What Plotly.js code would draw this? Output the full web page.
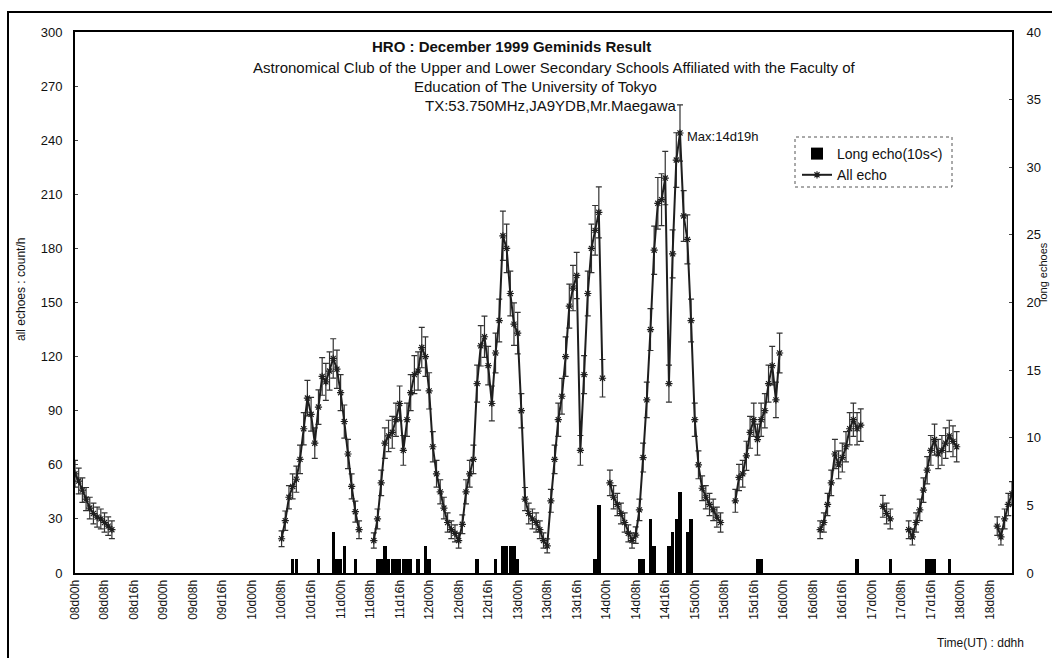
<!DOCTYPE html>
<html><head><meta charset="utf-8">
<script src="https://cdn.plot.ly/plotly-3.0.1.min.js"></script>
<style>html,body{margin:0;padding:0;background:#fff;} #chart{width:1052px;height:658px;}</style>
</head><body><div id="chart"></div>
<script>
// x-axis tick labels, one every 8 hours starting at 08d00h
const tickLabels = ["08d00h","08d08h","08d16h","09d00h","09d08h","09d16h","10d00h","10d08h","10d16h",
  "11d00h","11d08h","11d16h","12d00h","12d08h","12d16h","13d00h","13d08h","13d16h","14d00h","14d08h",
  "14d16h","15d00h","15d08h","15d16h","16d00h","16d08h","16d16h","17d00h","17d08h","17d16h","18d00h","18d08h"];

// All echo (count/h): observed segments, start hour counted from 08d00h
const segStarts = [0, 56, 81, 145, 179, 202, 219, 226, 250];
const seg08d = [55, 51, 46, 41, 36, 33, 31, 30, 28, 26, 24];
const seg10d = [19, 29, 42, 48, 52, 63, 80, 97, 88, 72, 92, 109, 106, 112, 119, 113, 100, 84, 66, 48, 34, 24];
const seg11d = [18, 30, 50, 72, 76, 78, 85, 94, 68, 85,
  100, 110, 112, 125, 120, 101, 70, 55, 45, 36,
  28, 24, 22, 18, 27, 45, 55, 63, 105, 126,
  131, 115, 94, 122, 140, 187, 180, 155, 138, 133,
  90, 41, 33, 30, 28, 24, 18, 15, 40, 63,
  85, 98, 120, 148, 158, 165, 68, 110, 155, 180,
  190, 200, 108];
const seg14d = [50, 42, 38, 33, 28, 22, 18, 21, 35, 64,
  96, 135, 179, 205, 207, 219, 105, 177, 229, 244,
  198, 185, 140, 85, 60, 47, 42, 38, 35, 31, 28];
const seg15d = [40, 53, 55, 65, 78, 85, 74, 85, 90, 105, 115, 96, 122];
const seg16d = [24, 28, 38, 50, 66, 60, 64, 70, 80, 85, 80, 82];
const seg17a = [37, 33, 30];
const seg17b = [24, 20, 28, 35, 46, 57, 68, 74, 66, 68, 72, 76, 73, 70];
const seg18d = [26, 20, 30, 38, 44];
const segValues = [seg08d, seg10d, seg11d, seg14d, seg15d, seg16d, seg17a, seg17b, seg18d];

// Long echo (10s<), count/h on the right axis
const longHours = [59,60,66,70,71,72,73,76,82,83,84,85,86,87,88,89,90,91,93,95,96,109,114,
  116,117,118,119,120,141,142,153,154,156,157,161,162,163,164,166,167,185,186,212,221,231,232,233,237];
const longEcho = [1,1,1,3,1,1,2,1,1,1,2,1,1,1,1,1,1,1,1,2,1,1,1,
  2,2,2,2,1,1,5,1,1,4,2,2,3,4,6,3,4,1,1,1,1,1,1,1,1];

// build line arrays with gaps between segments
const allX = [], allY = [];
segValues.forEach((vals, k) => {
  vals.forEach((v, i) => { allX.push(segStarts[k] + i); allY.push(v); });
  allX.push(segStarts[k] + vals.length); allY.push(null);
});
const tickVals = tickLabels.map((_, i) => i * 8);

// pixel helpers for paper-positioned decorations
const L = 75, R = 1012, T = 32, B = 573;
const px = x => (x - L) / (R - L);
const py = y => (B - y) / (B - T);
const FONT = "Liberation Sans, Arial, sans-serif";
const INK = "#111";

const traces = [
  { type: "bar", x: longHours, y: longEcho, yaxis: "y2", name: "Long echo(10s<)",
    marker: { color: "#000", line: { width: 0 } }, width: 0.92 },
  { type: "scatter", mode: "lines+markers", x: allX, y: allY, name: "All echo",
    connectgaps: false,
    line: { color: "#1e1e1e", width: 2 },
    marker: { symbol: "asterisk-open", size: 6, color: "#1e1e1e", line: { width: 1.2, color: "#1e1e1e" } },
    error_y: { type: "sqrt", color: "#333", thickness: 1.2, width: 3 } }
];

const layout = {
  width: 1052, height: 658,
  margin: { l: L, r: 1052 - R, t: T, b: 658 - B },
  paper_bgcolor: "#fff", plot_bgcolor: "#fff",
  font: { family: FONT, color: INK, size: 12 },
  showlegend: true,
  bargap: 0,
  xaxis: { range: [0, 254], tickvals: tickVals, ticktext: tickLabels, tickangle: -90,
    tickfont: { size: 12, family: FONT, color: INK }, showgrid: false, zeroline: false,
    showline: true, linecolor: "#000", linewidth: 2, mirror: true, ticks: "" },
  yaxis: { range: [0, 300], dtick: 30, tick0: 0, showgrid: false, zeroline: false,
    showline: true, linecolor: "#000", linewidth: 2, ticks: "inside", ticklen: 3, tickcolor: "#444",
    tickfont: { size: 13, family: FONT, color: INK }, ticklabelstandoff: 8 },
  yaxis2: { range: [0, 40], dtick: 5, tick0: 0, overlaying: "y", side: "right", showgrid: false,
    zeroline: false, showline: true, linecolor: "#000", linewidth: 2, ticks: "inside", ticklen: 3,
    tickcolor: "#444", tickfont: { size: 13, family: FONT, color: INK }, ticklabelstandoff: 10 },
  legend: { x: px(797), y: py(138), xanchor: "left", yanchor: "top", bgcolor: "rgba(255,255,255,0)",
    borderwidth: 0, font: { size: 14, family: FONT, color: INK }, tracegroupgap: 0, itemwidth: 30 },
  shapes: [
    { type: "rect", xref: "paper", yref: "paper", x0: px(8), x1: px(1070), y0: py(670), y1: py(12),
      line: { color: "#000", width: 2 } },
    { type: "rect", xref: "paper", yref: "paper", x0: px(795), x1: px(952), y0: py(187), y1: py(137),
      line: { color: "#555", width: 1, dash: "dot" } }
  ],
  annotations: [
    { xref: "paper", yref: "paper", x: px(511), y: py(46), text: "<b>HRO : December 1999 Geminids Result</b>",
      showarrow: false, font: { size: 15, family: FONT, color: INK }, xanchor: "center", yanchor: "middle" },
    { xref: "paper", yref: "paper", x: px(554), y: py(67),
      text: "Astronomical Club of the Upper and Lower Secondary Schools Affiliated with the Faculty of",
      showarrow: false, font: { size: 15, family: FONT, color: INK }, xanchor: "center", yanchor: "middle" },
    { xref: "paper", yref: "paper", x: px(535), y: py(87), text: "Education of The University of Tokyo",
      showarrow: false, font: { size: 15, family: FONT, color: INK }, xanchor: "center", yanchor: "middle" },
    { xref: "paper", yref: "paper", x: px(551), y: py(106), text: "TX:53.750MHz,JA9YDB,Mr.Maegawa",
      showarrow: false, font: { size: 15, family: FONT, color: INK }, xanchor: "center", yanchor: "middle" },
    { xref: "paper", yref: "paper", x: px(685), y: py(136), text: "Max:14d19h",
      showarrow: false, font: { size: 13, family: FONT, color: INK }, xanchor: "left", yanchor: "middle" },
    { xref: "paper", yref: "paper", x: px(21), y: py(290), text: "all echoes : count/h", textangle: -90,
      showarrow: false, font: { size: 12, family: FONT, color: INK }, xanchor: "center", yanchor: "middle" },
    { xref: "paper", yref: "paper", x: px(1051), y: py(272), text: "long echoes", textangle: -90,
      showarrow: false, font: { size: 11, family: FONT, color: INK }, xanchor: "right", yanchor: "middle" },
    { xref: "paper", yref: "paper", x: px(1026), y: py(643), text: "Time(UT) : ddhh",
      showarrow: false, font: { size: 12, family: FONT, color: INK }, xanchor: "right", yanchor: "middle" }
  ]
};

Plotly.newPlot("chart", traces, layout, { displayModeBar: false, staticPlot: true });
</script></body></html>
